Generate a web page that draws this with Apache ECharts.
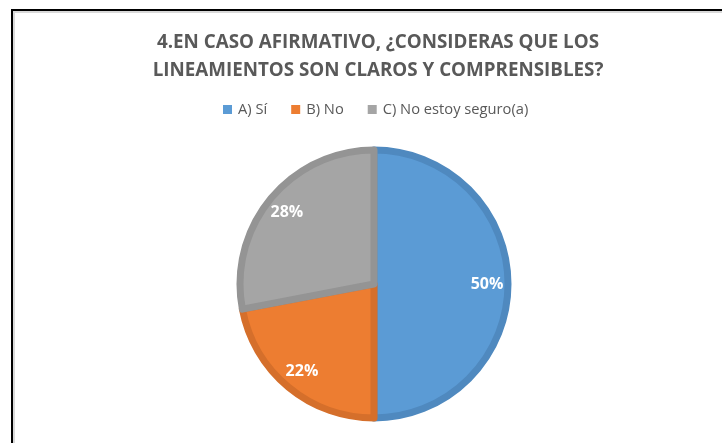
<!DOCTYPE html>
<html>
<head>
<meta charset="utf-8">
<script src="https://cdn.jsdelivr.net/npm/echarts@6/dist/echarts.min.js"></script>
<style>
  html, body { margin: 0; padding: 0; background: #fff; }
  #wrap { position: relative; width: 722px; height: 443px; overflow: hidden; }
  #frame { position: absolute; left: 11px; top: 9px; right: -5px; bottom: -5px;
           border-left: 2px solid #000; border-top: 2px solid #000;
           box-shadow: inset 2px 2px 0 #d9d9d9; }
  #chart { position: absolute; left: 0; top: 0; width: 722px; height: 443px; }
</style>
</head>
<body>
<div id="wrap">
  <div id="frame"></div>
  <div id="chart"></div>
</div>
<script>
// datos del gráfico
const categorias = ['A) Sí', 'B) No', 'C) No estoy seguro(a)'];
const valores = [50, 22, 28];
const colores = ['#5B9BD5', '#ED7D31', '#A5A5A5'];
const bordes = ['#4F89BF', '#D56F2B', '#949494'];

const titulo = '4.EN CASO AFIRMATIVO, ¿CONSIDERAS QUE LOS\nLINEAMIENTOS SON CLAROS Y COMPRENSIBLES?';

let myChart = echarts.init(document.getElementById('chart'));

const datos = categorias.map((c, i) => ({
  name: c,
  value: valores[i],
  itemStyle: { color: colores[i], borderColor: bordes[i] }
}));

let option = {
  animation: false,
  title: {
    text: titulo,
    left: 373,
    textAlign: 'center',
    top: 24,
    textStyle: {
      fontFamily: 'Open Sans',
      fontWeight: 'bold',
      fontSize: 18.8,
      color: '#595959',
      lineHeight: 28
    }
  },
  legend: {
    data: categorias,
    left: 218,
    top: 97,
    itemWidth: 9,
    itemHeight: 9,
    itemGap: 24,
    icon: 'rect',
    itemStyle: { borderWidth: 0 },
    textStyle: { fontFamily: 'Open Sans', fontSize: 14.7, color: '#595959', padding: [0, 0, 0, 1] }
  },
  series: [
    {
      type: 'pie',
      center: [374, 284],
      radius: [0, 134],
      startAngle: 90,
      clockwise: true,
      silent: true,
      itemStyle: { borderWidth: 7 },
      label: { show: false },
      labelLine: { show: false },
      data: datos
    },
    {
      // serie auxiliar solo para colocar las etiquetas
      type: 'pie',
      center: [374, 284],
      radius: [86, 134],
      startAngle: 90,
      clockwise: true,
      silent: true,
      legendHoverLink: false,
      itemStyle: { color: 'transparent', borderWidth: 0 },
      label: {
        show: true,
        position: 'inside',
        formatter: '{c}%',
        fontFamily: 'Open Sans',
        fontWeight: 'bold',
        fontSize: 16,
        color: '#fff'
      },
      labelLine: { show: false },
      data: categorias.map((c, i) => ({ name: c + ' ', value: valores[i] }))
    }
  ]
};

myChart.setOption(option);
</script>
</body>
</html>
